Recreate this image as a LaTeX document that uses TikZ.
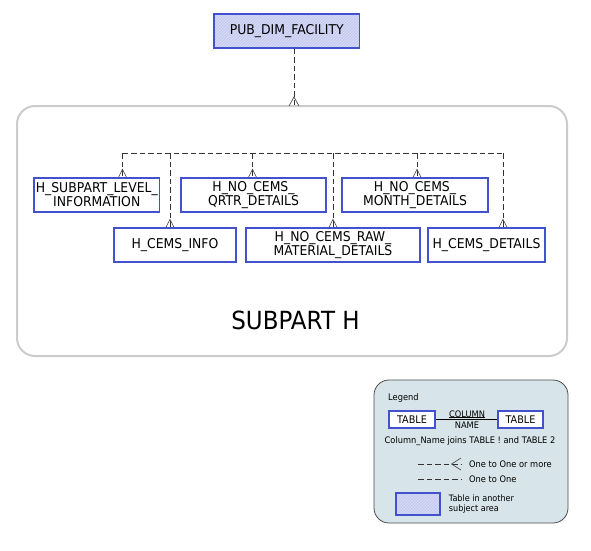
\documentclass[tikz,border=0pt]{standalone}
\usepackage{fontspec}
\setmainfont{DejaVu Sans}[FakeStretch=0.92]
\usetikzlibrary{positioning}
\usetikzlibrary{arrows.meta, patterns}

\definecolor{tblblue}{HTML}{4252CF}
\definecolor{hatchbg}{HTML}{C6CBF0}
\definecolor{hatchfg}{HTML}{DCDFF6}
\definecolor{areagray}{HTML}{CCCCCC}
\definecolor{legendbg}{HTML}{D7E4EA}

\tikzset{
	table/.style={draw=tblblue, line width=1.6pt, fill=white, inner sep=0pt, align=center, minimum height=34pt, font=\fontsize{13.5}{14}\selectfont},
	other/.style={preaction={fill=hatchbg}, pattern=north east lines, pattern color=hatchfg},
	rel/.style={draw=black!80, line width=0.7pt, dash pattern=on 5.5pt off 3pt},
	foot/.style={draw=black!75, line width=0.6pt},
	small/.style={inner sep=0pt, font=\fontsize{9}{10.5}\selectfont}
}

\begin{document}
\begin{tikzpicture}[x=1pt, y=-1pt]

	\useasboundingbox (0,0) rectangle (591,550);

	% subject area
	\path[draw=areagray, line width=2pt, rounded corners=18pt] (17,106) rectangle (567,356);
	\coordinate (area_top) at (294,106);
	\node (sub_h) at (295.5,320.5) [font=\fontsize{25}{25}\selectfont] {SUBPART H};

	\node (pub_dim) at (286.75,31) [table, other, minimum width=145.5pt] {PUB\_DIM\_FACILITY};

	\node (h_sub)   at (96.75,195) [table, minimum width=125.5pt] {H\_SUBPART\_LEVEL\_\\INFORMATION};
	\node (h_qrtr)  at (253.5,195) [table, minimum width=145pt] {H\_NO\_CEMS\_\\QRTR\_DETAILS};
	\node (h_month) at (415,195)   [table, minimum width=146pt] {H\_NO\_CEMS\_\\MONTH\_DETAILS};
	\node (h_info)  at (175,245)   [table, minimum width=122pt] {H\_CEMS\_INFO};
	\node (h_raw)   at (333,245)   [table, minimum width=174pt] {H\_NO\_CEMS\_RAW\_\\MATERIAL\_DETAILS};
	\node (h_det)   at (486.5,245) [table, minimum width=117pt] {H\_CEMS\_DETAILS};

	\path[rel] (pub_dim.south -| area_top) -- (area_top);
	\path[foot] (area_top) ++(-5,0) -- ++(5,-9) -- ++(5,9);

	% bus
	\coordinate (b_sub)   at (122.5,153);
	\coordinate (b_info)  at (170,153);
	\coordinate (b_qrtr)  at (252.5,153);
	\coordinate (b_raw)   at (333,153);
	\coordinate (b_month) at (417,153);
	\coordinate (b_det)   at (503,153);

	\path[rel] (b_sub) -- (b_det);
	\path[rel] (b_sub) -- (b_sub |- h_sub.north);
	\path[rel] (b_info) -- (b_info |- h_info.north);
	\path[rel] (b_qrtr) -- (b_qrtr |- h_qrtr.north);
	\path[rel] (b_raw) -- (b_raw |- h_raw.north);
	\path[rel] (b_month) -- (b_month |- h_month.north);
	\path[rel] (b_det) -- (b_det |- h_det.north);

	\path[foot] (b_sub |- h_sub.north) ++(-4,0) -- ++(4,-8) -- ++(4,8);
	\path[foot] (b_info |- h_info.north) ++(-4,0) -- ++(4,-8) -- ++(4,8);
	\path[foot] (b_qrtr |- h_qrtr.north) ++(-4,0) -- ++(4,-8) -- ++(4,8);
	\path[foot] (b_raw |- h_raw.north) ++(-4,0) -- ++(4,-8) -- ++(4,8);
	\path[foot] (b_month |- h_month.north) ++(-4,0) -- ++(4,-8) -- ++(4,8);
	\path[foot] (b_det |- h_det.north) ++(-4,0) -- ++(4,-8) -- ++(4,8);

	% legend
	\path[draw=black!70, fill=legendbg, line width=0.8pt, rounded corners=15pt] (374,380) rectangle (568,523);
	\node (leg_title) at (388,398) [small, anchor=west] {Legend};

	\node (leg_tab1) at (412,419.5)   [table, minimum width=46pt, minimum height=17pt, line width=1.4pt, font=\fontsize{10.5}{12}\selectfont] {TABLE};
	\node (leg_tab2) at (520.5,419.5) [table, minimum width=45pt, minimum height=17pt, line width=1.4pt, font=\fontsize{10.5}{12}\selectfont] {TABLE};
	\path[draw, line width=0.7pt] (leg_tab1) -- (leg_tab2);
	\node (leg_col)  at (467,414) [small, fill=legendbg] {COLUMN};
	\node (leg_name) at (467,425.5) [small] {NAME};
	\path[draw, line width=0.7pt] (leg_col.south west) -- (leg_col.south east);
	\node (leg_join) at (470,440.7) [small] {Column\_Name joins TABLE ! and TABLE 2};

	\coordinate (many_a) at (418,464);
	\coordinate (many_b) at (461,464);
	\path[rel] (many_a) -- (many_b);
	\path[foot] (461,458) -- (451.5,464) -- (461,470);
	\node (many_txt) [small, right=8pt of many_b] {One to One or more};

	\coordinate (one_a) at (418,479);
	\coordinate (one_b) at (461,479);
	\path[rel] (one_a) -- (one_b);
	\node (one_txt) [small, right=8pt of one_b] {One to One};

	\node (leg_other) at (418,504) [table, other, minimum width=44pt, minimum height=22pt, line width=1.4pt] {};
	\node (leg_other_txt) [small, right=8pt of leg_other, align=left, font=\fontsize{8.8}{10.5}\selectfont] {Table in another\\subject area};

\end{tikzpicture}
\end{document}
